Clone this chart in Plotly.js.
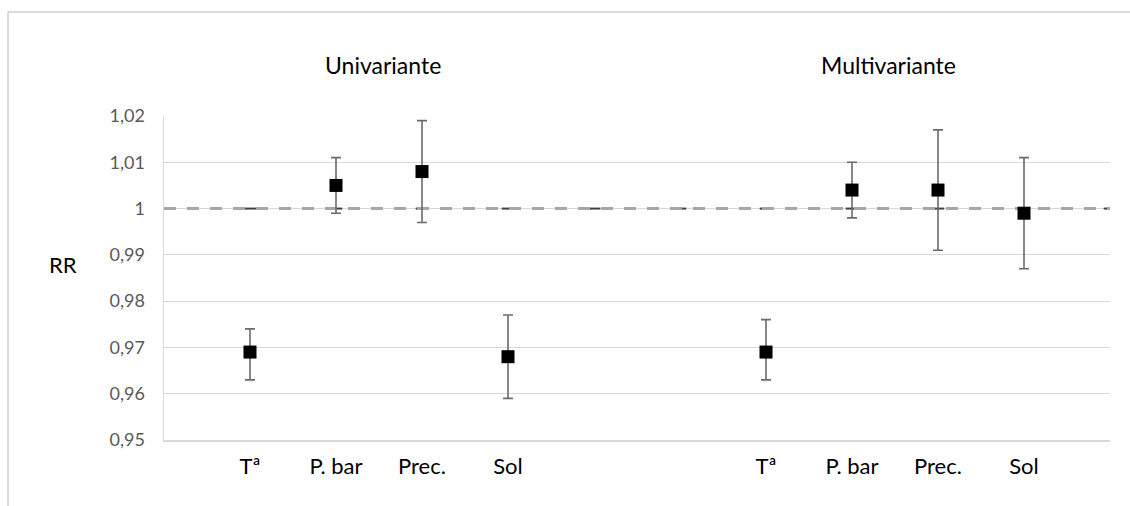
<!DOCTYPE html>
<html>
<head>
<meta charset="utf-8">
<script src="https://cdn.plot.ly/plotly-3.0.1.min.js"></script>
<style>
  html, body { margin: 0; padding: 0; background: #ffffff; }
  #chart { width: 1130px; height: 506px; }
</style>
</head>
<body>
<div id="chart"></div>
<script>
// Category slots along the x axis (blank slots keep the two groups apart)
const categories = ['', 'Tª', 'P. bar', 'Prec.', 'Sol', '', '', 'Tª', 'P. bar', 'Prec.', 'Sol', ''];

// Relative risk estimates and their 95% confidence limits
const rr     = [null, 0.969, 1.005, 1.008, 0.968, null, null, 0.969, 1.004, 1.004, 0.999, null];
const ciLow  = [null, 0.963, 0.999, 0.997, 0.959, null, null, 0.963, 0.998, 0.991, 0.987, null];
const ciHigh = [null, 0.974, 1.011, 1.019, 0.977, null, null, 0.976, 1.010, 1.017, 1.011, null];

// Null-effect reference (RR = 1) at every slot
const reference = [1, 1, 1, 1, 1, 1, 1, 1, 1, 1, 1, 1];

// Group headings
const groupTitles = ['Univariante', 'Multivariante'];

const xIdx = categories.map((_, i) => i);
const errPlus  = rr.map((v, i) => v === null ? 0 : +(ciHigh[i] - v).toFixed(4));
const errMinus = rr.map((v, i) => v === null ? 0 : +(v - ciLow[i]).toFixed(4));

const FONT = 'Lato, "Open Sans", sans-serif';

const traces = [
  // small dark ticks on the reference level
  {
    x: xIdx, y: reference, type: 'scatter', mode: 'markers',
    marker: { symbol: 'line-ew', size: 9, line: { color: '#404040', width: 2 } },
    hoverinfo: 'skip', showlegend: false
  },
  // dashed reference line
  {
    x: xIdx, y: reference, type: 'scatter', mode: 'lines',
    line: { color: '#a6a6a6', width: 3, dash: '12px,11px' },
    hoverinfo: 'skip', showlegend: false
  },
  // point estimates with confidence intervals
  {
    x: xIdx, y: rr, type: 'scatter', mode: 'markers',
    marker: { symbol: 'square', size: 13, color: '#000000' },
    error_y: {
      type: 'data', symmetric: false,
      array: errPlus, arrayminus: errMinus,
      color: '#6b6b6b', thickness: 1.6, width: 5
    },
    showlegend: false
  }
];

const layout = {
  width: 1130, height: 506,
  margin: { l: 164, r: 20, t: 116, b: 66, pad: 0 },
  paper_bgcolor: '#ffffff', plot_bgcolor: '#ffffff',
  separators: ', ',
  showlegend: false,
  font: { family: FONT, color: '#000000' },
  xaxis: {
    range: [0, 11],
    tickmode: 'array', tickvals: xIdx, ticktext: categories,
    showgrid: false, zeroline: false,
    showline: true, linecolor: '#d9d9d9', linewidth: 1.5,
    ticks: '', ticklabelstandoff: 6,
    tickfont: { family: FONT, size: 22, color: '#000000' },
    fixedrange: true
  },
  yaxis: {
    range: [0.95, 1.02], tick0: 0.95, dtick: 0.01,
    tickformat: '~g',
    showgrid: true, gridcolor: '#d9d9d9', gridwidth: 1,
    zeroline: false,
    showline: true, linecolor: '#d9d9d9', linewidth: 1.5,
    ticks: '', ticklabelstandoff: 14,
    tickfont: { family: FONT, size: 18, color: '#595959' },
    fixedrange: true
  },
  annotations: [
    { text: groupTitles[0], xref: 'paper', yref: 'paper', x: 0.2315, y: 1.157,
      xanchor: 'center', yanchor: 'middle', showarrow: false,
      font: { family: FONT, size: 23, color: '#000000' } },
    { text: groupTitles[1], xref: 'paper', yref: 'paper', x: 0.766, y: 1.157,
      xanchor: 'center', yanchor: 'middle', showarrow: false,
      font: { family: FONT, size: 23, color: '#000000' } },
    { text: 'RR', xref: 'paper', yref: 'paper', x: -0.107, y: 0.542,
      xanchor: 'center', yanchor: 'middle', showarrow: false,
      font: { family: FONT, size: 22, color: '#000000' } }
  ],
  shapes: [
    // chart frame
    { type: 'rect', xref: 'paper', yref: 'paper',
      x0: -0.1649, x1: 1.06, y0: -0.3, y1: 1.321,
      line: { color: '#d0d0d0', width: 1.5 }, fillcolor: 'rgba(0,0,0,0)', layer: 'below' }
  ]
};

Plotly.newPlot('chart', traces, layout, { displayModeBar: false, staticPlot: true });
</script>
</body>
</html>
